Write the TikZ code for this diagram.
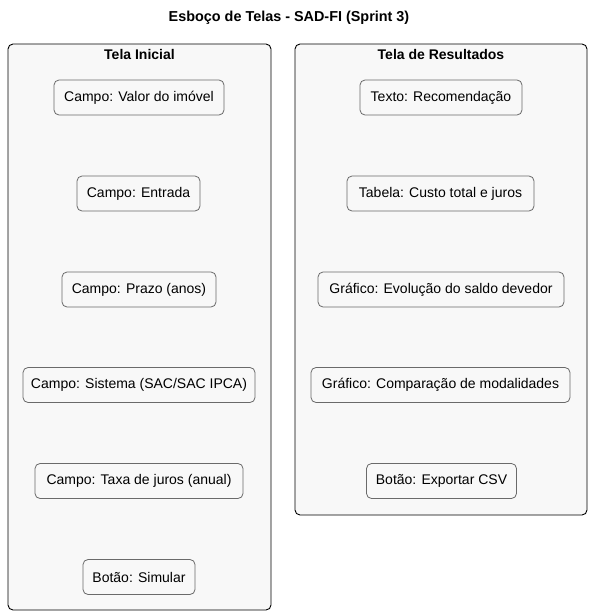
\documentclass[tikz,border=0pt]{standalone}
\usepackage{fontspec}
\setmainfont{Liberation Sans}
\begin{document}
\begin{tikzpicture}[x=1pt,y=-1pt,
  frame/.style={draw=black,fill=panel,rounded corners=5pt,line width=0.9pt},
  field/.style={draw=edgegray,fill=panel,rounded corners=5pt,line width=0.8pt,
    minimum height=35pt,inner xsep=4pt,font=\fontsize{14}{16}\selectfont},
  paneltitle/.style={font=\bfseries\fontsize{14}{16}\selectfont},
]
\definecolor{panel}{HTML}{F8F8F8}
\definecolor{edgegray}{HTML}{6A6A6A}
\useasboundingbox (0,0) rectangle (592,616);
\node[font=\bfseries\fontsize{14.4}{16}\selectfont] (title) at (289,18) {Esboço de Telas - SAD-FI (Sprint 3)};
\draw[frame] (8,44) rectangle (271,610);
\coordinate (leftframe) at (139.5,327);
\draw[frame] (295,44) rectangle (587,515);
\coordinate (rightframe) at (441,280);
\node[paneltitle] (lt) at (139.5,54) {Tela Inicial};
\node[paneltitle] (rt) at (441,54) {Tela de Resultados};
\node[field,minimum width=170pt] (l1) at (139,97.5) {Campo: Valor do imóvel};
\node[field,minimum width=123pt] (l2) at (138.5,193.5) {Campo: Entrada};
\node[field,minimum width=154pt] (l3) at (139,289.5) {Campo: Prazo (anos)};
\node[field,minimum width=232pt] (l4) at (139,385) {Campo: Sistema (SAC/SAC IPCA)};
\node[field,minimum width=208pt] (l5) at (139,481) {Campo: Taxa de juros (anual)};
\node[field,minimum width=112pt] (l6) at (139,577) {Botão: Simular};
\node[field,minimum width=162pt] (r1) at (441,97.5) {Texto: Recomendação};
\node[field,minimum width=187pt] (r2) at (440.5,193.5) {Tabela: Custo total e juros};
\node[field,minimum width=246pt] (r3) at (441,289.5) {Gráfico: Evolução do saldo devedor};
\node[field,minimum width=259pt] (r4) at (440.5,385) {Gráfico: Comparação de modalidades};
\node[field,minimum width=150pt] (r5) at (441.5,481) {Botão: Exportar CSV};
\end{tikzpicture}
\end{document}
